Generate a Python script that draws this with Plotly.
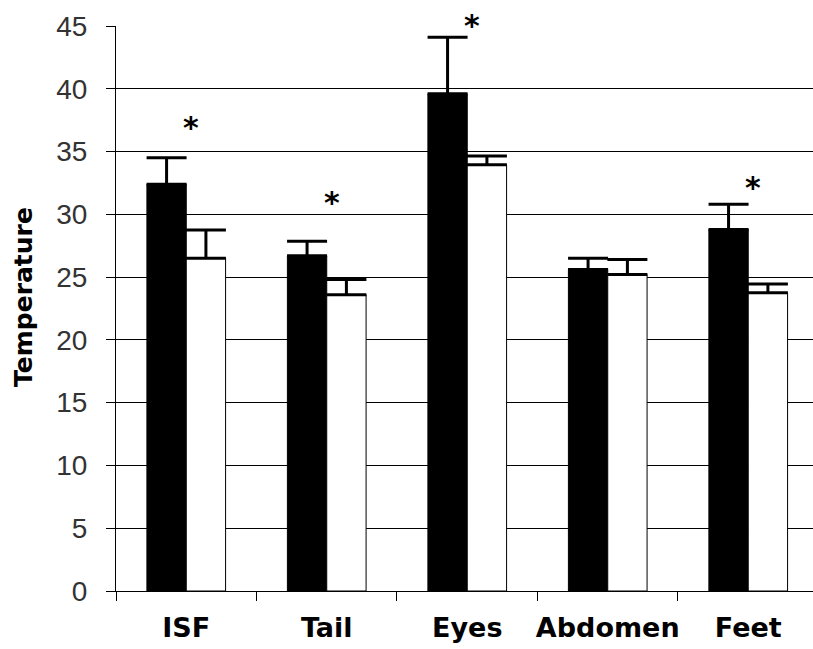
import plotly.graph_objects as go

categories = ["ISF", "Tail", "Eyes", "Abdomen", "Feet"]
series_black = [32.4, 26.7, 39.6, 25.6, 28.8]
error_black = [2.1, 1.15, 4.5, 0.9, 2.0]
series_white = [26.5, 23.6, 33.95, 25.2, 23.75]
error_white = [2.25, 1.2, 0.7, 1.2, 0.7]
star_y = [37.2, 31.2, 45.3, None, 32.4]
y_ticks = [0, 5, 10, 15, 20, 25, 30, 35, 40, 45]
Y_MAX = 45

fig = go.Figure()
fig.add_trace(go.Bar(
    x=categories, y=series_black,
    marker=dict(color="#000000", line=dict(color="#000000", width=1)),
    error_y=dict(type="data", array=error_black, arrayminus=[0]*5, symmetric=False,
                 color="#000000", thickness=3, width=20),
    showlegend=False,
))
fig.add_trace(go.Bar(
    x=categories, y=series_white,
    marker=dict(color="#ffffff", line=dict(color="#000000", width=1)),
    error_y=dict(type="data", array=error_white, arrayminus=[0]*5, symmetric=False,
                 color="#000000", thickness=3, width=20),
    showlegend=False,
))

for c, s in zip(categories, star_y):
    if s is None:
        continue
    fig.add_annotation(x=c, y=s / Y_MAX, xref="x", yref="paper", text="*", showarrow=False,
                       font=dict(family="DejaVu Sans", size=30, color="#000000", weight="bold"),
                       xshift=5, yshift=16)

fig.add_annotation(xref="paper", yref="paper", x=-0.133, y=0.521, text="Temperature",
                   textangle=-90, showarrow=False, xanchor="center", yanchor="middle",
                   font=dict(family="DejaVu Sans", size=25, color="#000000", weight="bold"))

fig.update_layout(
    width=813, height=649,
    margin=dict(l=116, r=0, t=25.5, b=58.3, autoexpand=False),
    paper_bgcolor="#ffffff", plot_bgcolor="#ffffff",
    barmode="group", bargap=0.44, bargroupgap=0,
)
fig.update_xaxes(
    type="category", range=[-0.5, 4.461], tickson="boundaries",
    showline=True, linecolor="#000000", linewidth=1,
    ticks="outside", ticklen=9, tickcolor="#000000", tickwidth=1,
    showgrid=False, ticklabelstandoff=13, tickangle=0, automargin=False,
    tickfont=dict(family="DejaVu Sans", size=27, color="#000000", weight="bold"),
)
fig.update_yaxes(
    range=[0, Y_MAX], tickvals=y_ticks, automargin=False,
    showline=True, linecolor="#000000", linewidth=1,
    ticks="outside", ticklen=9, tickcolor="#000000", tickwidth=1,
    showgrid=True, gridcolor="#000000", gridwidth=1, zeroline=False,
    ticklabelstandoff=13,
    tickfont=dict(family="Liberation Sans", size=28, color="#333333"),
)

fig.write_html("out.html")
